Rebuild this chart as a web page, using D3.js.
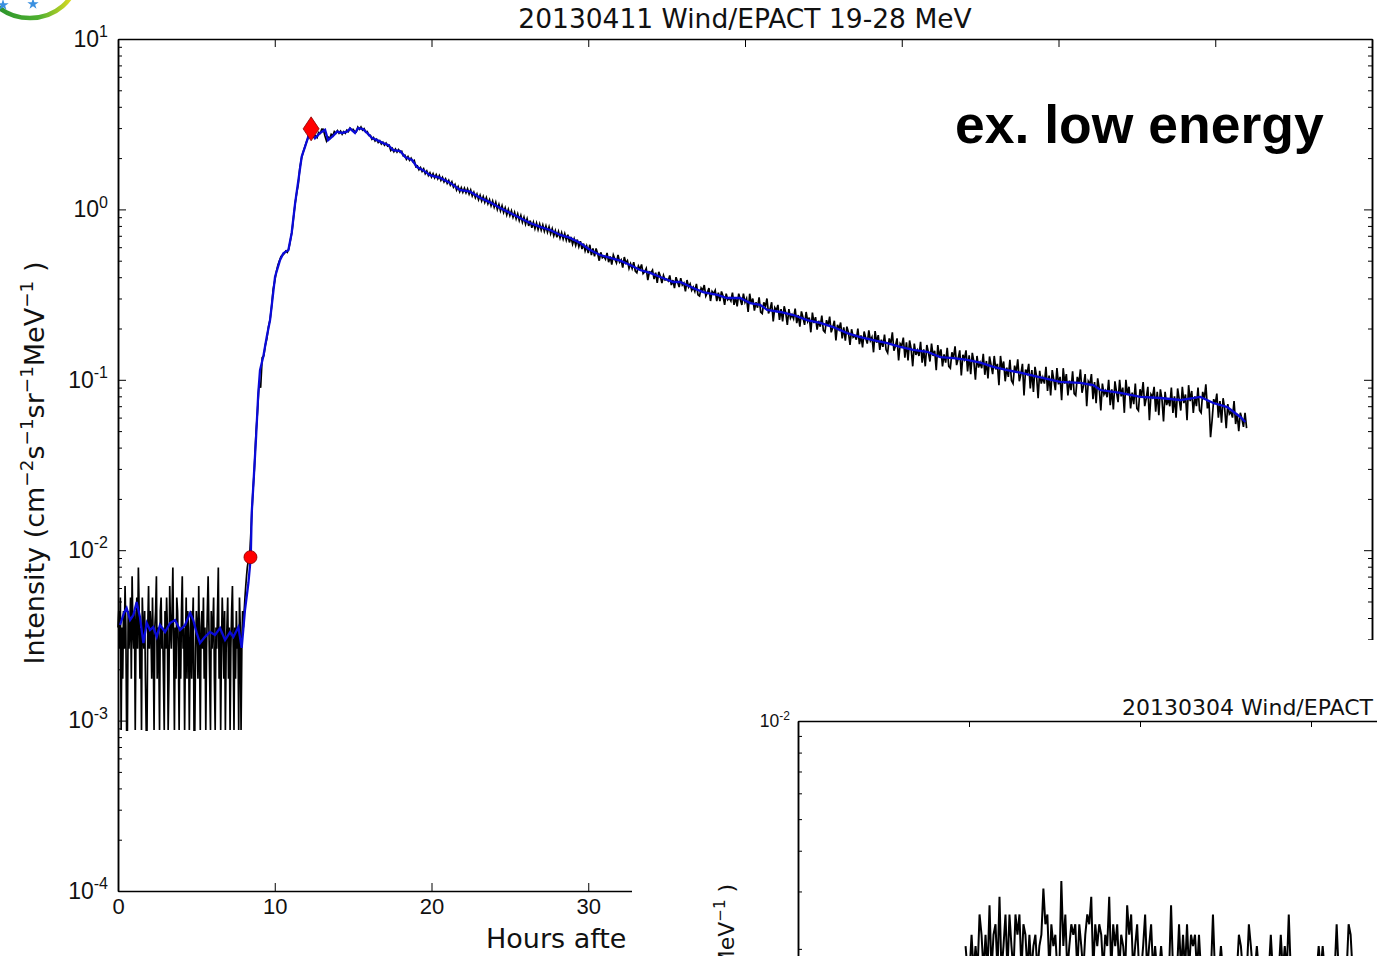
<!DOCTYPE html>
<html>
<head>
<meta charset="utf-8">
<script src="https://cdn.jsdelivr.net/npm/d3@7"></script>
<style>
  body { margin: 0; background: #fff; }
  svg { display: block; font-family: "DejaVu Sans", sans-serif; }
</style>
</head>
<body>
<svg id="chart" width="1377" height="956"></svg>
<script>
/* ---- data ---- */
const mainTitle = '20130411 Wind/EPACT 19-28 MeV';
const insetTitle = '20130304 Wind/EPACT';
const xTicks = [0, 10, 20, 30, 40, 50, 60, 70, 80];
const xTickLabels = [0, 10, 20, 30]; // the rest sit under the inset figure
const yDecades = [1e-4, 1e-3, 1e-2, 1e-1, 1, 10];
const insetXTicks = [0, 10, 20, 30, 40];

// raw intensity, pre-event background (regular cadence)
const preStart = 0, preStep = 0.05;
const preRaw = [
  .00352,.0044,.00264,.00528,.00088,.00352,.00176,.0044,.00264,.00616,
  .00352,.00088,.00088,.0044,.00264,.00352,.00528,.00176,.00704,.00352,
  .00264,.0044,.00088,.00352,.00528,.00264,.00792,.0044,.00176,.00352,
  .00088,.00528,.00352,.00264,.0044,.00176,.00088,.00088,.00352,.00616,
  .00264,.0044,.00352,.00176,.00528,.00264,.00088,.00352,.0044,.00704,
  .00176,.00352,.00264,.00088,.0044,.00528,.00264,.00352,.00176,.00088,
  .0044,.00264,.00528,.00352,.00088,.00176,.00616,.00352,.00264,.0044,
  .00792,.00264,.00088,.00352,.00176,.00528,.0044,.00264,.00088,.00352,
  .00176,.0044,.00704,.00264,.00352,.00088,.00264,.00528,.00176,.0044,
  .00352,.00088,.00264,.0044,.00176,.00352,.00528,.00088,.00088,.00264,
  .0044,.00352,.00176,.00616,.00264,.00088,.00352,.0044,.00264,.00528,
  .00176,.00352,.00088,.00264,.0044,.00704,.00352,.00176,.00088,.0044,
  .00264,.00352,.00528,.00176,.00088,.00352,.00264,.0044,.00792,.00176,
  .00352,.00088,.00264,.00528,.00352,.00176,.0044,.00088,.00264,.00352,
  .00528,.00176,.00352,.00088,.00264,.0044,.00616,.00264,.00088,.00352,
  .00176,.0044,.00264,.00352,.00088,.00528,.00352,.00088,.00264,.0044,
  .00352,.0044,.00528,.00616,.00704,.00792
];

// raw intensity, rise phase
const riseStart = 8.3, riseStep = 0.1;
const riseRaw = [
  .0085,.0092,.014,.0215,.030,.048,.065,.095,.090,.135,
  .138,.160,.175,.205,.225,.27,.34,.38,.43,.47,
  .50,.53,.54,.55,.57,.56,.59,.66,.74,.90,
  1.08,1.25,1.40,1.75,1.98,2.15,2.30,2.45,2.60,2.80,2.97
];

// raw intensity, decay phase
const decayStart = 12.4, decayStep = 0.1;
const decayRaw = [
  2.88,2.66,2.70,2.64,2.83,2.80,2.96,
  2.95,2.70,2.52,2.66,2.60,2.76,2.70,2.86,2.80,2.90,
  2.80,2.88,2.76,2.86,2.80,2.92,2.86,3.00,2.92,2.95,
  2.86,2.85,3.04,2.95,3.05,2.92,2.98,2.84,2.86,2.72,
  2.72,2.58,2.64,2.52,2.58,2.47,2.53,2.42,2.48,2.38,
  2.45,2.35,2.38,2.22,2.28,2.18,2.26,2.17,2.24,2.16,
  2.19,2.06,2.08,1.97,2.04,1.94,2.00,1.91,1.94,1.78,
  1.80,1.71,1.76,1.67,1.73,1.62,1.68,1.58,1.64,1.55,
  1.62,1.53,1.60,1.51,1.58,1.48,1.54,1.45,1.51,1.42,
  1.48,1.39,1.45,1.35,1.40,1.30,1.36,1.27,1.34,1.26,
  1.33,1.25,1.32,1.23,1.30,1.20,1.26,1.17,1.23,1.14,
  1.21,1.12,1.19,1.10,1.17,1.08,1.14,1.05,1.12,1.03,
  1.10,1.00,1.07,.98,1.05,.96,1.02,.93,1.00,.92,
  .98,.90,.96,.88,.94,.86,.92,.84,.90,.82,
  .88,.80,.86,.78,.84,.77,.83,.76,.82,.755,
  .81,.745,.80,.735,.79,.72,.77,.70,.75,.685,
  .74,.68,.73,.67,.72,.66,.71,.64,.69,.625,
  .67,.615,.665,.605,.65,.585,.63,.57,.61,.555,
  .62,.54,.59,.53,.59,.55,.50,.56,.52,.53,
  .51,.555,.49,.53,.475,.54,.51,.485,.54,.49,
  .505,.455,.525,.485,.50,.45,.48,.45,.49,.435,
  .425,.465,.445,.475,.42,.43,.45,.385,.43,.425,
  .44,.39,.425,.37,.43,.405,.37,.41,.385,.39,
  .38,.41,.36,.385,.345,.40,.375,.35,.395,.36,
  .37,.33,.385,.35,.365,.335,.35,.33,.365,.315,
  .31,.345,.333,.36,.31,.325,.345,.29,.33,.32,
  .335,.29,.325,.29,.33,.31,.275,.32,.295,.302,
  .29,.325,.275,.305,.27,.32,.296,.275,.32,.285,
  .30,.25,.32,.28,.30,.255,.285,.265,.305,.25,
  .245,.285,.268,.30,.245,.26,.285,.22,.265,.255,
  .275,.225,.26,.22,.27,.247,.21,.26,.23,.241,
  .228,.262,.215,.24,.205,.252,.232,.21,.25,.22,
  .232,.19,.248,.215,.233,.197,.222,.205,.238,.195,
  .19,.224,.207,.235,.19,.203,.222,.17,.21,.198,
  .217,.175,.203,.17,.205,.19,.16,.198,.178,.182,
  .172,.20,.162,.182,.155,.192,.176,.163,.195,.17,
  .178,.145,.193,.165,.183,.15,.172,.156,.184,.15,
  .144,.175,.162,.19,.148,.158,.175,.13,.163,.158,
  .177,.135,.166,.13,.17,.152,.12,.163,.14,.149,
  .138,.167,.126,.151,.12,.16,.145,.128,.163,.138,
  .148,.114,.16,.136,.151,.12,.141,.126,.154,.12,
  .117,.145,.134,.157,.122,.133,.149,.106,.14,.132,
  .149,.112,.139,.108,.144,.128,.10,.138,.118,.126,
  .117,.142,.107,.129,.102,.137,.122,.108,.138,.115,
  .124,.093,.138,.115,.128,.098,.118,.104,.131,.099,
  .095,.121,.11,.132,.098,.108,.124,.081,.115,.109,
  .124,.089,.114,.085,.119,.105,.078,.113,.095,.103,
  .095,.119,.086,.106,.081,.114,.10,.087,.117,.094,
  .104,.076,.117,.095,.108,.081,.099,.087,.112,.083,
  .081,.104,.095,.115,.084,.093,.108,.07,.098,.094,
  .108,.077,.097,.073,.102,.089,.066,.095,.082,.086,
  .079,.10,.071,.088,.067,.098,.085,.074,.10,.08,
  .09,.064,.10,.082,.091,.068,.084,.072,.095,.068,
  .066,.088,.08,.097,.07,.078,.091,.058,.082,.079,
  .091,.065,.085,.062,.088,.077,.057,.085,.071,.077,
  .07,.09,.064,.08,.06,.089,.077,.066,.091,.073,
  .082,.058,.093,.075,.086,.064,.08,.07,.09,.066,
  .064,.085,.077,.094,.068,.074,.046,.058,.077,.072,
  .083,.06,.075,.056,.078,.068,.052,.072,.063,.065,
  .06,.075,.055,.063,.05,.064,.059,.053,.064,.052
];

// smoothed intensity (blue)
const smoothTimes = [
  0.13,0.38,0.55,0.77,0.98,1.19,1.40,1.62,1.83,2.04,2.25,2.47,2.68,3.0,3.32,3.64,3.96,4.28,4.6,4.8,
  5.02,5.23,5.55,5.87,6.19,6.51,6.83,7.15,7.36,7.68,7.89,8.1,8.32,8.47,
  8.53,8.63,8.81,8.95,9.06,9.27,9.49,9.70,10.02,10.34,10.55,10.87,11.08,11.30,11.51,11.72,11.93,12.14,12.32,
  12.57,12.89,13.21,13.40,13.72,13.98,14.29,14.61,14.81,15.12,15.32,15.63,15.89,16.21,16.53,16.91,17.23,17.55,
  18.0,18.32,18.76,19.08,19.46,19.91,20.55,21.19,21.82,22.46,23.1,23.74,24.38,25.02,25.65,26.29,26.93,27.57,
  28.21,28.84,29.48,30.12,30.76,31.4,32.04,32.67,33.31,33.95,34.59,35.42,35.86,36.69,37.33,38.23,38.86,39.69,
  40.33,40.97,41.42,42.25,43.08,43.97,44.8,45.63,46.52,47.35,48.18,49.08,49.9,50.73,51.63,52.46,53.29,54.18,
  55.01,55.84,56.73,57.56,58.84,60.11,61.39,62.22,62.67,63.94,65.22,66.5,67.77,69.05,69.88,70.77,71.6,71.92
];
const smoothValues = [
  .00364,.00428,.00458,.00389,.00417,.00497,.00406,.00285,.00374,.0034,.00354,.0031,.00364,.00331,.00374,.00389,.0034,.00364,.00428,.00389,
  .00327,.00285,.0031,.00331,.00318,.00349,.00297,.00331,.0031,.00354,.00267,.00445,.00642,.00912,
  .0165,.0236,.0463,.0837,.114,.137,.179,.224,.403,.505,.552,.578,.727,1.09,1.49,2.04,2.33,2.67,2.97,
  2.62,2.81,2.93,2.55,2.70,2.86,2.81,2.86,2.98,2.81,3.00,2.96,2.81,2.62,2.55,2.45,2.39,2.23,
  2.20,2.03,1.95,1.77,1.70,1.59,1.53,1.43,1.30,1.27,1.17,1.10,1.02,0.953,0.891,0.832,0.789,0.757,
  0.708,0.680,0.635,0.578,0.540,0.519,0.50,0.472,0.441,0.424,0.401,0.375,0.375,0.346,0.327,0.315,0.302,0.302,
  0.282,0.275,0.257,0.250,0.240,0.224,0.216,0.204,0.188,0.178,0.171,0.164,0.156,0.150,0.146,0.136,0.134,0.131,
  0.126,0.119,0.114,0.110,0.1035,0.0971,0.0958,0.0932,0.0871,0.0837,0.0793,0.0782,0.0761,0.0793,0.0731,0.0692,0.0605,0.0565
];

// event markers
const onsetTime = 8.45, onsetValue = 0.0091;
const peakTime = 12.32, peakValue = 2.97;

// inset event (20130304), raw intensity on a regular cadence
const insetStart = 9.8, insetStep = 7 / 60;
const insetRaw = [
  .00204,.0017,.0017,.00221,.0017,.00204,.0017,.00255,.00221,.0017,
  .00221,.0017,.00272,.0017,.00221,.00238,.0017,.00289,.0017,.00204,
  .00255,.0017,.00255,.00204,.0017,.00255,.00221,.00255,.0017,.00238,
  .00221,.0017,.00221,.0017,.00204,.00221,.0017,.00204,.00221,.00306,
  .00238,.00255,.0017,.00238,.00204,.00221,.0017,.0017,.00323,.00204,
  .00255,.0017,.00204,.00238,.00221,.00238,.0017,.00238,.00204,.0017,
  .00221,.00255,.00238,.00289,.0017,.00238,.00204,.00238,.00221,.0017,
  .00221,.00204,.00289,.0017,.00238,.00204,.00238,.0017,.00221,.00204,
  .0017,.00272,.00221,.00255,.0017,.00204,.00238,.0017,.0017,.00204,
  .00255,.0017,.00204,.00238,.0017,.00204,.0017,.0017,.00204,.0017,
  .0017,.0017,.0017,.00272,.0017,.0017,.0017,.00238,.0017,.00221,
  .0017,.00238,.0017,.00221,.00204,.00221,.0017,.00221,.0017,.0017,
  .0017,.0017,.0017,.0017,.00255,.0017,.0017,.0017,.00204,.0017,
  .0017,.0017,.0017,.0017,.0017,.0017,.0017,.00221,.00204,.0017,
  .0017,.0017,.00238,.00204,.0017,.0017,.00204,.0017,.0017,.0017,
  .0017,.0017,.0017,.00221,.0017,.0017,.0017,.0017,.00221,.0017,
  .00204,.0017,.00255,.0017,.0017,.0017,.0017,.0017,.0017,.0017,
  .0017,.0017,.0017,.0017,.0017,.0017,.0017,.00204,.0017,.00204,
  .0017,.0017,.0017,.0017,.0017,.0017,.00238,.0017,.0017,.0017,
  .0017,.0017,.00238,.00221,.0017,.0017,.0017
];

/* ---- drawing ---- */
const svg = d3.select('#chart');
const defs = svg.append('defs');

// main chart is partly covered by the inset figure (bottom right)
defs.append('clipPath').attr('id', 'mainClip')
  .append('path').attr('d', 'M0,0H1377V640H632V956H0Z');
defs.append('clipPath').attr('id', 'insetClip')
  .append('rect').attr('x', 632).attr('y', 640).attr('width', 745).attr('height', 316);

const x = d3.scaleLinear().domain([0, 80]).range([118, 1372]);
const y = d3.scaleLog().domain([1e-4, 10]).range([891, 39]);

const series = (start, step, vals) => vals.map((v, i) => ({ t: start + i * step, v }));
const rawData = series(preStart, preStep, preRaw)
  .concat(series(riseStart, riseStep, riseRaw))
  .concat(series(decayStart, decayStep, decayRaw));
const smoothData = smoothTimes.map((t, i) => ({ t, v: smoothValues[i] }));

const main = svg.append('g').attr('clip-path', 'url(#mainClip)');

function styleAxis(g) {
  g.select('.domain').attr('stroke', '#000').attr('stroke-width', 1.5);
  g.selectAll('.tick line').attr('stroke', '#000').attr('stroke-width', 1);
}

function logLabels(g, fs, supFs) {
  g.selectAll('.tick text').each(function (d) {
    const t = d3.select(this).text(null).attr('font-size', fs).attr('fill', '#111');
    t.append('tspan').text('10');
    t.append('tspan').attr('dy', -fs * 0.42).attr('font-size', supFs)
      .text(String(Math.round(Math.log10(d))));
  });
}

const minorY = y.ticks().filter(v => !yDecades.some(m => Math.abs(m - v) / m < 1e-6));

// left axis
main.append('g').attr('transform', 'translate(118,0)')
  .call(d3.axisLeft(y).tickValues(minorY).tickSize(-4).tickSizeOuter(0).tickFormat(''))
  .call(styleAxis);
main.append('g').attr('transform', 'translate(118,0)')
  .call(d3.axisLeft(y).tickValues(yDecades).tickSize(-8).tickSizeOuter(0).tickPadding(10))
  .call(styleAxis)
  .call(g => logLabels(g, 23, 16));

// right axis
main.append('g').attr('transform', 'translate(1372,0)')
  .call(d3.axisRight(y).tickValues(minorY).tickSize(-4).tickSizeOuter(0).tickFormat(''))
  .call(styleAxis);
main.append('g').attr('transform', 'translate(1372,0)')
  .call(d3.axisRight(y).tickValues(yDecades).tickSize(-8).tickSizeOuter(0).tickFormat(''))
  .call(styleAxis);

// bottom / top axes
main.append('g').attr('transform', 'translate(0,891)')
  .call(d3.axisBottom(x).tickValues(xTicks).tickSize(-8).tickSizeOuter(0).tickFormat(''))
  .call(styleAxis);
main.append('g').attr('transform', 'translate(0,891)')
  .call(d3.axisBottom(x).tickValues(xTickLabels).tickSize(0).tickPadding(7))
  .call(g => g.select('.domain').remove())
  .call(g => g.selectAll('.tick text').attr('font-size', 22).attr('fill', '#111'));
main.append('g').attr('transform', 'translate(0,39)')
  .call(d3.axisTop(x).tickValues(xTicks).tickSize(-8).tickSizeOuter(0).tickFormat(''))
  .call(styleAxis);

// data
const line = d3.line().x(d => x(d.t)).y(d => y(d.v));
main.append('path').datum(rawData)
  .attr('d', line).attr('fill', 'none').attr('stroke', '#000').attr('stroke-width', 1.7);
main.append('path').datum(smoothData)
  .attr('d', line).attr('fill', 'none').attr('stroke', '#0a0ad8').attr('stroke-width', 2.3);

main.append('circle')
  .attr('cx', x(onsetTime)).attr('cy', y(onsetValue)).attr('r', 6.5)
  .attr('fill', '#f00').attr('stroke', '#800').attr('stroke-width', 0.8);
main.append('path')
  .attr('transform', `translate(${x(peakTime)},${y(peakValue)})`)
  .attr('d', 'M0,-12L8,0L0,12L-8,0Z')
  .attr('fill', '#f00').attr('stroke', '#800').attr('stroke-width', 0.8);

// texts
main.append('text').attr('x', 745).attr('y', 28).attr('text-anchor', 'middle')
  .attr('font-size', 26.5).attr('fill', '#111').text(mainTitle);
main.append('text').attr('x', 486).attr('y', 948)
  .attr('font-size', 27).attr('fill', '#111').text('Hours afte');

function richLabel(textSel, parts, fs, shift) {
  let up = false;
  parts.forEach(([base, sup]) => {
    textSel.append('tspan').attr('dy', up ? shift : 0).text(base);
    up = false;
    if (sup) {
      textSel.append('tspan').attr('dy', -shift).attr('font-size', fs * 0.68).text(sup);
      up = true;
    }
  });
}
const yLabelParts = [['Intensity (cm', '\u22122'], ['s', '\u22121'], ['sr', '\u22121'], ['MeV', '\u22121'], [' )', null]];
richLabel(main.append('text')
  .attr('transform', 'translate(44,463) rotate(-90)')
  .attr('text-anchor', 'middle').attr('font-size', 27).attr('fill', '#111'),
  yLabelParts, 27, 11);

main.append('text').attr('x', 955).attr('y', 143)
  .attr('font-family', '"Liberation Sans", Arial, sans-serif').attr('font-weight', 'bold')
  .attr('font-size', 53.5).attr('fill', '#000').text('ex. low energy');

// logo fragment, top left
const grad = defs.append('linearGradient').attr('id', 'logoGrad')
  .attr('x1', 0).attr('x2', 1).attr('y1', 0).attr('y2', 0);
grad.append('stop').attr('offset', '0%').attr('stop-color', '#1f8a2a');
grad.append('stop').attr('offset', '60%').attr('stop-color', '#4fb030');
grad.append('stop').attr('offset', '100%').attr('stop-color', '#f0e020');
svg.append('ellipse').attr('cx', 30).attr('cy', -22).attr('rx', 46).attr('ry', 40)
  .attr('fill', '#fff').attr('stroke', 'url(#logoGrad)').attr('stroke-width', 4.5);
svg.selectAll('path.star').data([[3, 5], [33, 4]]).join('path').attr('class', 'star')
  .attr('transform', d => `translate(${d[0]},${d[1]})`)
  .attr('d', d3.symbol(d3.symbolStar, 40)).attr('fill', '#3a90e0');

/* ---- inset figure ---- */
const inset = svg.append('g').attr('clip-path', 'url(#insetClip)');
inset.append('rect').attr('x', 632).attr('y', 640).attr('width', 745).attr('height', 316).attr('fill', '#fff');

const ix = d3.scaleLinear().domain([0, 80]).range([798, 2166]);
const iy = d3.scaleLog().domain([1e-3, 1e-2]).range([1047, 721]);
const insetData = series(insetStart, insetStep, insetRaw);

inset.append('g').attr('transform', 'translate(798,0)')
  .call(d3.axisLeft(iy).tickValues(iy.ticks()).tickSize(-4).tickSizeOuter(0).tickFormat(''))
  .call(styleAxis);
inset.append('g').attr('transform', 'translate(798,0)')
  .call(d3.axisLeft(iy).tickValues([1e-2]).tickSize(-7).tickSizeOuter(0).tickPadding(8))
  .call(styleAxis)
  .call(g => logLabels(g, 17.5, 12));
inset.append('g').attr('transform', 'translate(0,721)')
  .call(d3.axisTop(ix).tickValues(insetXTicks).tickSize(-6).tickSizeOuter(0).tickFormat(''))
  .call(styleAxis);

const iline = d3.line().x(d => ix(d.t)).y(d => iy(d.v));
inset.append('path').datum(insetData)
  .attr('d', iline).attr('fill', 'none').attr('stroke', '#000').attr('stroke-width', 2);

inset.append('text').attr('x', 1373).attr('y', 715).attr('text-anchor', 'end')
  .attr('font-size', 22).attr('fill', '#111').text(insetTitle);
richLabel(inset.append('text')
  .attr('transform', 'translate(734,884) rotate(-90)')
  .attr('text-anchor', 'end').attr('font-size', 22).attr('fill', '#111'),
  yLabelParts, 22, 9);
</script>
</body>
</html>
